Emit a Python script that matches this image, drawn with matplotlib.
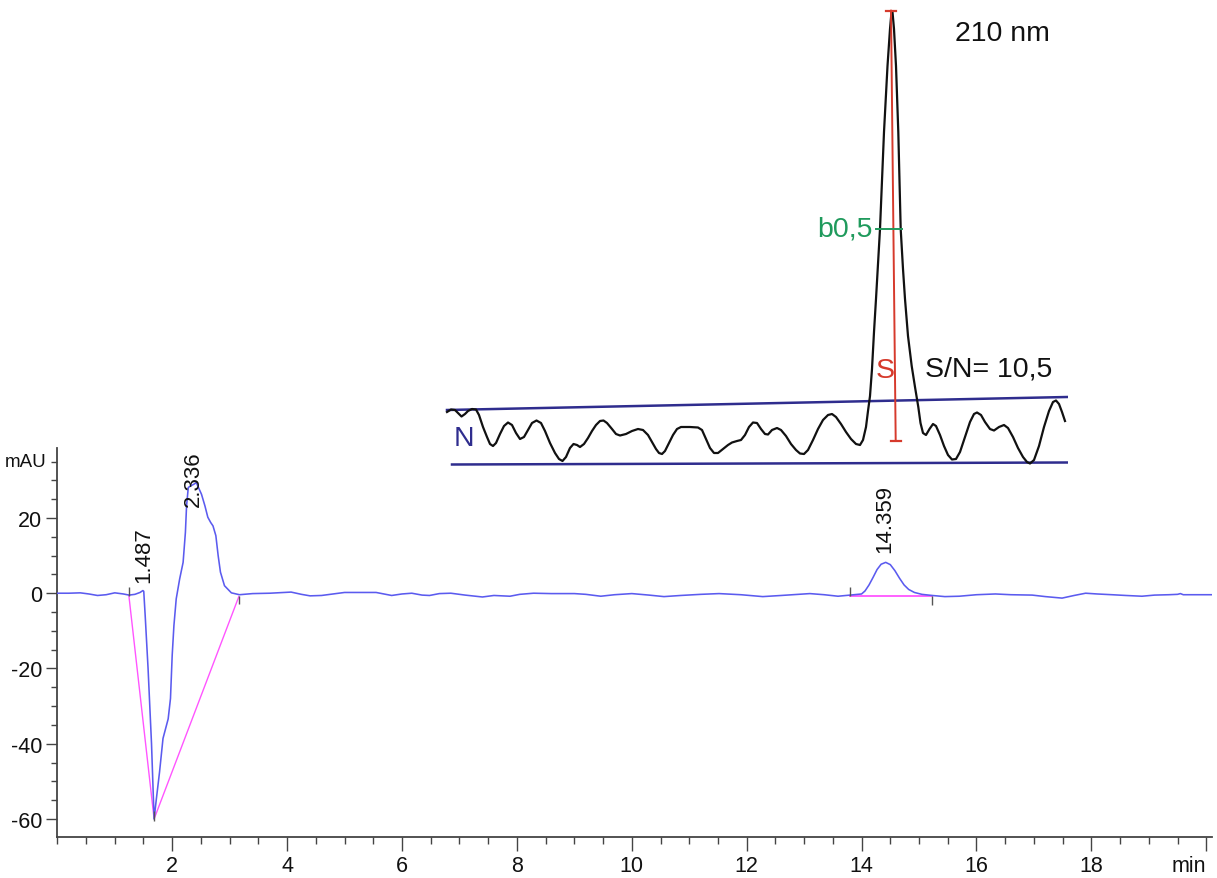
import matplotlib
matplotlib.use("Agg")
import matplotlib.pyplot as plt
from matplotlib import font_manager as fm
from matplotlib.ticker import MultipleLocator, FixedLocator

plt.rcParams["axes.unicode_minus"] = False

# ---------------- main chromatogram data (time in min, signal in mAU) -------------
time_min = [0.0, 0.2, 0.4, 0.55, 0.7, 0.85, 1.0, 1.15, 1.25, 1.35, 1.44, 1.49, 1.505,
            1.53, 1.58, 1.64, 1.685, 1.725, 1.78, 1.84, 1.93, 1.97, 2.0, 2.03, 2.07,
            2.13, 2.19, 2.23, 2.25, 2.28, 2.33, 2.38, 2.42, 2.46, 2.51, 2.57, 2.62,
            2.67, 2.71, 2.76, 2.8, 2.84, 2.91, 3.03, 3.17, 3.4, 3.7, 4.07, 4.25,
            4.4, 4.6, 4.8, 5.0, 5.3, 5.55, 5.82, 6.0, 6.17, 6.35, 6.48, 6.65, 6.85,
            7.1, 7.4, 7.6, 7.88, 8.05, 8.29, 8.6, 9.0, 9.2, 9.46, 9.7, 10.0, 10.3,
            10.56, 10.85, 11.2, 11.52, 11.9, 12.28, 12.6, 13.1, 13.35, 13.59, 13.8,
            14.0, 14.06, 14.13, 14.2, 14.27, 14.34, 14.42, 14.5, 14.58, 14.66, 14.74,
            14.82, 14.92, 15.05, 15.23, 15.45, 15.7, 16.0, 16.33, 16.6, 16.97, 17.2,
            17.49, 17.7, 17.9, 18.1, 18.36, 18.6, 18.88, 19.1, 19.35, 19.5, 19.55,
            19.6, 19.75, 20.1]
signal_mau = [0.0, 0.0, 0.1, -0.2, -0.6, -0.4, 0.1, -0.2, -0.5, -0.3, 0.2, 0.7, 0.5,
              -6.0, -20.0, -40.0, -60.0, -54.6, -47.5, -38.6, -33.4, -28.0, -16.5, -8.6, -1.5,
              3.8, 8.2, 16.2, 23.2, 28.1, 28.6, 29.0, 29.4, 28.0, 26.3, 23.2, 20.2,
              18.8, 17.9, 15.3, 10.0, 5.6, 2.0, 0.1, -0.4, -0.1, 0.0, 0.3, -0.3,
              -0.7, -0.6, -0.2, 0.2, 0.2, 0.2, -0.6, -0.2, 0.0, -0.5, -0.6, -0.1, 0.0,
              -0.5, -1.0, -0.6, -0.8, -0.3, 0.0, -0.1, -0.1, -0.3, -0.8, -0.4, -0.1, -0.5,
              -0.9, -0.6, -0.3, -0.1, -0.4, -0.9, -0.6, -0.1, -0.4, -0.8, -0.5,
              -0.2, 0.6, 2.2, 4.2, 6.3, 7.7, 8.2, 7.6, 6.0, 4.0, 2.2,
              1.0, 0.2, -0.3, -0.6, -0.9, -0.8, -0.4, -0.2, -0.4, -0.5, -0.9,
              -1.3, -0.6, 0.0, -0.2, -0.4, -0.6, -0.8, -0.5, -0.4, -0.3, -0.1,
              -0.4, -0.4, -0.4]

# integration baselines (pink)
base1_t = [1.245, 1.685, 3.16]
base1_v = [-0.5, -60.0, -0.9]
base2_t = [13.79, 15.22]
base2_v = [-0.8, -0.8]

# integration event marks (t, ymin, ymax)
mark_t = [1.245, 1.685, 3.16, 13.79, 15.22]
mark_lo = [-0.7, -60.5, -2.9, -0.7, -3.0]
mark_hi = [1.7, -58.0, -0.7, 1.7, -0.7]

# peak labels
peak_labels = ["1.487", "2.336", "14.359"]
peak_label_t = [1.50, 2.36, 14.41]
peak_label_v = [3.0, 23.2, 11.0]

x_major = [2, 4, 6, 8, 10, 12, 14, 16, 18, 20]
x_major_labels = ["2", "4", "6", "8", "10", "12", "14", "16", "18", "min"]
y_major = [-60, -40, -20, 0, 20]

# ---------------- inset (enlarged S/N sketch) data, relative units ----------------
ins_x = [2, 6, 10, 13, 16.5, 20, 23, 27, 31, 34, 38, 42, 45, 48, 51, 55, 59, 63, 67, 71,
         75, 79, 83, 87, 91.5, 96, 100, 105, 110, 114, 117.5, 121, 125, 128.5, 132, 135,
         139, 143, 147, 151, 155, 158.5, 162, 167, 171, 175, 181, 187, 193, 198, 203,
         207, 211, 214, 217, 220, 224, 228, 232, 236, 245, 253, 257, 261, 265, 269, 273,
         278, 283, 287, 292, 296, 300, 304, 308, 312, 316, 320, 323, 327, 332, 336, 341,
         346, 351, 355, 359, 363, 368, 373, 378, 383, 387, 391, 396, 401, 406, 411, 415,
         418, 421, 423, 425, 427, 429, 431, 435, 439, 442.5, 445, 446.5, 447.5, 449, 451,
         453.3, 455.7, 458, 460, 463, 466.7, 470, 473.3, 475.5, 478, 481, 484.5, 488, 491,
         495, 499, 503, 507, 511, 515, 520, 525, 529, 532, 536, 540, 545, 549, 554, 559,
         563, 568, 573, 578, 582, 585, 589, 594, 599, 604, 608, 611, 614, 617, 620]
ins_s = [57, 59.5, 59, 56, 52.5, 55, 58, 60, 59.5, 54, 42, 32, 25, 23, 26, 35, 43, 46.5, 44, 36,
         30, 32, 39, 46, 48.5, 46, 38, 26, 16, 10, 8, 12, 21, 25, 24, 22,
         25, 31, 38, 44, 48, 48.5, 46, 40, 35, 33.5, 35, 38, 40, 39, 34,
         27, 20, 16, 15, 18, 26, 34, 40, 42, 42, 41.5, 39, 30, 21, 16, 16,
         20, 24, 26.5, 28, 29, 34, 42, 46.5, 46, 40, 35, 34.5, 39, 41, 39, 33,
         25, 19, 15.5, 15, 19, 29, 40, 49, 54, 55, 52, 45, 37, 30, 25, 24,
         29, 42, 58, 73, 100, 137, 170, 240, 337, 403, 440, 457, 457, 440, 403,
         337, 240, 200, 170, 133, 103, 82, 62, 46, 36, 34, 40, 45, 43,
         34, 23, 14, 9.5, 10, 17, 32, 47, 55, 56.5, 54, 47, 40, 38.5, 42, 44,
         41, 32, 21, 12, 7, 5.5, 9, 23, 42, 58, 67, 68.5, 65, 57, 48]
noise_top_x = [2, 622]
noise_top_s = [59, 72]
noise_bot_x = [7, 622]
noise_bot_s = [4.5, 6.5]
signal_bar_x = [446, 450.7]
signal_bar_s = [458.3, 28.3]
halfwidth_x = [431, 457]
halfwidth_s = [240, 240]

ARIAL = ["Liberation Sans", "DejaVu Sans"]
_names = {f.name for f in fm.fontManager.ttflist}
if "Liberation Sans Narrow" in _names:
    TICK_FONT = ["Liberation Sans Narrow", "DejaVu Sans"]
    TICK_SIZE = 17
    MAU_SIZE = 15.5
else:
    TICK_FONT = ARIAL
    TICK_SIZE = 15.5
    MAU_SIZE = 13.5

W, H = 1217, 879
fig = plt.figure(figsize=(W / 100, H / 100), dpi=100)
fig.patch.set_facecolor("white")

# main axes
ax = fig.add_axes([57.3 / W, (H - 838) / H, (1212 - 57.3) / W, (838 - 449) / H])
ax.plot(time_min, signal_mau, color="#5b5bef", lw=1.15, zorder=3)
ax.plot(base1_t, base1_v, color="#ff55ff", lw=1.0, zorder=2)
ax.plot(base2_t, base2_v, color="#ff55ff", lw=1.3, zorder=2)
ax.vlines(mark_t, mark_lo, mark_hi, color="#555555", lw=1.0, zorder=4)
for lab, t, v in zip(peak_labels, peak_label_t, peak_label_v):
    ax.text(t, v, lab, rotation=90, ha="center", va="bottom", fontsize=16,
            family=ARIAL, color="#111111", zorder=5)

ax.set_xlim(0, 20.1)
ax.set_ylim(-64.8, 38.6)
for s in ["top", "right"]:
    ax.spines[s].set_visible(False)
for s in ["left", "bottom"]:
    ax.spines[s].set_color("#444444")
    ax.spines[s].set_linewidth(1.3)
ax.xaxis.set_major_locator(FixedLocator(x_major))
ax.set_xticklabels(x_major_labels)
ax.xaxis.set_minor_locator(MultipleLocator(0.5))
ax.yaxis.set_major_locator(FixedLocator(y_major))
ax.yaxis.set_minor_locator(MultipleLocator(5))
ax.tick_params(axis="x", which="major", length=10, width=1.0, color="#444444",
               pad=3, labelsize=TICK_SIZE, direction="out")
ax.tick_params(axis="x", which="minor", length=5, width=1.0, color="#444444", direction="out")
ax.tick_params(axis="y", which="major", length=8, width=1.0, color="#444444",
               pad=3, labelsize=TICK_SIZE, direction="out")
ax.tick_params(axis="y", which="minor", length=4, width=1.0, color="#444444", direction="out")
for lbl in ax.get_xticklabels() + ax.get_yticklabels():
    lbl.set_family(TICK_FONT)
    lbl.set_color("#111111")
ax.get_xticklabels()[-1].set_horizontalalignment("right")
ax.text(-0.027, 0.965, "mAU", transform=ax.transAxes, ha="center", va="center",
        fontsize=MAU_SIZE, family=TICK_FONT, color="#111111")

# inset sketch
ai = fig.add_axes([445 / W, (H - 470) / H, 623 / W, 460 / H])
ai.set_xlim(0, 623)
ai.set_ylim(0, 460)
ai.axis("off")
ai.plot(noise_top_x, noise_top_s, color="#2f2d8e", lw=1.8)
ai.plot(noise_bot_x, noise_bot_s, color="#2f2d8e", lw=1.8)
ai.plot(ins_x, ins_s, color="#111111", lw=1.6, solid_joinstyle="round")
ai.plot(signal_bar_x, signal_bar_s, color="#d63a2c", lw=1.4)
ai.plot([signal_bar_x[0] - 5, signal_bar_x[0] + 5], [signal_bar_s[0]] * 2, color="#d63a2c", lw=1.6)
ai.plot([signal_bar_x[1] - 5, signal_bar_x[1] + 5], [signal_bar_s[1]] * 2, color="#d63a2c", lw=1.6)
ai.plot(halfwidth_x, halfwidth_s, color="#1f9a5c", lw=1.4)
ai.text(510, 436, "210 nm", ha="left", va="center", fontsize=20.5, family=ARIAL, color="#111111")
ai.text(480, 100, "S/N= 10,5", ha="left", va="center", fontsize=20.5, family=ARIAL, color="#111111")
ai.text(440, 99, "S", ha="center", va="center", fontsize=20.5, family=ARIAL, color="#d63a2c")
ai.text(428, 240, "b0,5", ha="right", va="center", fontsize=20.5, family=ARIAL, color="#1f9a5c")
ai.text(19, 31, "N", ha="center", va="center", fontsize=20.5, family=ARIAL, color="#2f2d8e")

fig.savefig("out.png", dpi=100, facecolor="white")
